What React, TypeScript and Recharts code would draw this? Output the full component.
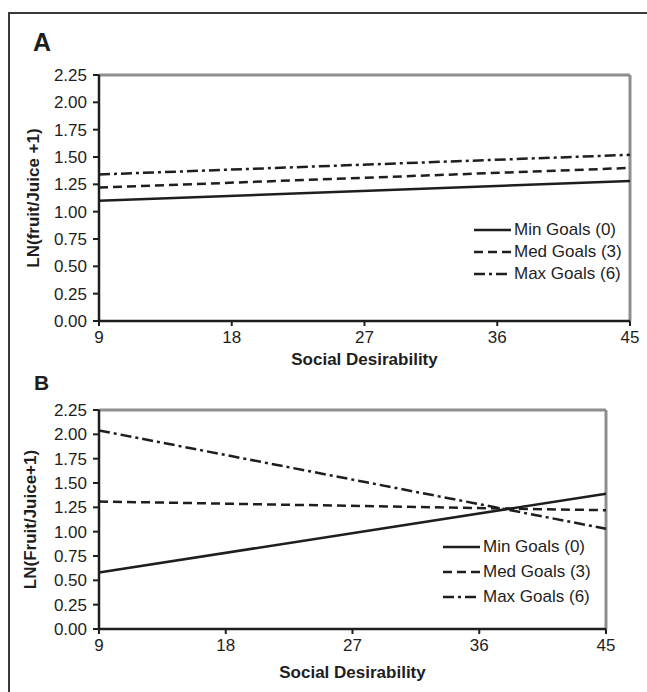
import React from 'react';
import { LineChart, Line, XAxis, YAxis, ReferenceLine, Legend } from 'recharts';

// Social Desirability endpoints of the simple-slope lines
const socialDesirability = [9, 45];
const xTicks = [9, 18, 27, 36, 45];
const yTicks = [0, 0.25, 0.5, 0.75, 1, 1.25, 1.5, 1.75, 2, 2.25];

// panel A  LN(fruit/Juice +1)
const minGoalsA = [1.1, 1.28];
const medGoalsA = [1.22, 1.4];
const maxGoalsA = [1.34, 1.52];

// panel B  LN(Fruit/Juice+1)
const minGoalsB = [0.58, 1.39];
const medGoalsB = [1.31, 1.22];
const maxGoalsB = [2.04, 1.03];

const seriesKeys = ['min', 'med', 'max'];
const seriesNames = ['Min Goals (0)', 'Med Goals (3)', 'Max Goals (6)'];

const FONT = '"Liberation Sans", Arial, Helvetica, sans-serif';
const INK = '#1e1e1e';
const BORDER = '#8e8e8e';
const dashes: Record<string, string | undefined> = {
  min: undefined,
  med: '9 5',
  max: '11 4 3 4',
};

function buildRows(min: number[], med: number[], max: number[]) {
  return socialDesirability.map((sd, i) => ({ sd, min: min[i], med: med[i], max: max[i] }));
}

function yTitle(text: string, centerX: number) {
  return (props: any) => {
    const { y, height } = props.viewBox;
    const cy = y + height / 2;
    return (
      <text
        x={centerX}
        y={cy}
        transform={`rotate(-90 ${centerX} ${cy})`}
        textAnchor="middle"
        dominantBaseline="central"
        fill={INK}
        fontSize={17}
        fontWeight="bold"
        fontFamily={FONT}
      >
        {text}
      </text>
    );
  };
}

function legendContent(rowHeight: number) {
  return (props: any) => {
    const items = [...(props.payload || [])].sort(
      (a: any, b: any) => seriesKeys.indexOf(a.dataKey) - seriesKeys.indexOf(b.dataKey)
    );
    return (
      <div style={{ fontFamily: FONT, fontSize: 17, color: INK }}>
        {items.map((entry: any) => (
          <div
            key={entry.value}
            style={{ display: 'flex', alignItems: 'center', height: rowHeight }}
          >
            <svg width={37} height={6}>
              <line
                x1={0}
                y1={3}
                x2={37}
                y2={3}
                stroke={INK}
                strokeWidth={2.5}
                strokeDasharray={dashes[entry.dataKey]}
              />
            </svg>
            <span style={{ marginLeft: 3, whiteSpace: 'nowrap' }}>{entry.value}</span>
          </div>
        ))}
      </div>
    );
  };
}

function Panel(props: {
  rows: any[];
  top: number;
  height: number;
  margin: any;
  xAxisHeight: number;
  title: string;
  titleX: number;
  legendPos: { left: number; top: number };
  rowHeight: number;
}) {
  const { rows, top, height, margin, xAxisHeight, title, titleX, legendPos, rowHeight } = props;
  return (
    <div style={{ position: 'absolute', left: 0, top }}>
      <LineChart width={647} height={height} data={rows} margin={margin}>
        <ReferenceLine y={2.25} stroke={BORDER} strokeWidth={3} />
        <ReferenceLine x={45} stroke={BORDER} strokeWidth={3} />
        <XAxis
          dataKey="sd"
          type="number"
          domain={[9, 45]}
          ticks={xTicks}
          height={xAxisHeight}
          tickSize={5}
          tickMargin={5}
          axisLine={{ stroke: INK, strokeWidth: 2.5 }}
          tickLine={{ stroke: INK, strokeWidth: 2 }}
          tick={{ fill: INK, fontSize: 17, fontFamily: FONT }}
          label={{
            value: 'Social Desirability',
            position: 'insideBottom',
            offset: 0,
            fill: INK,
            fontSize: 17,
            fontWeight: 'bold',
            fontFamily: FONT,
          }}
        />
        <YAxis
          type="number"
          domain={[0, 2.25]}
          ticks={yTicks}
          width={50}
          tickSize={6}
          tickMargin={6}
          interval={0}
          tickFormatter={(v: number) => v.toFixed(2)}
          axisLine={{ stroke: INK, strokeWidth: 2.5 }}
          tickLine={{ stroke: INK, strokeWidth: 2 }}
          tick={{ fill: INK, fontSize: 17, fontFamily: FONT }}
          label={yTitle(title, titleX)}
        />
        {seriesKeys.map((key, i) => (
          <Line
            key={key}
            dataKey={key}
            name={seriesNames[i]}
            type="linear"
            stroke={INK}
            strokeWidth={2.5}
            strokeDasharray={dashes[key]}
            dot={false}
            activeDot={false}
            isAnimationActive={false}
          />
        ))}
        <Legend
          layout="vertical"
          align="center"
          verticalAlign="middle"
          itemSorter={(item: any) => seriesKeys.indexOf(item.dataKey)}
          wrapperStyle={{ left: legendPos.left, top: legendPos.top, width: 170 }}
          content={legendContent(rowHeight)}
        />
      </LineChart>
    </div>
  );
}

export default function App() {
  return (
    <div
      style={{
        position: 'absolute',
        left: 0,
        top: 0,
        width: 647,
        height: 692,
        overflow: 'hidden',
        background: '#fff',
        fontFamily: FONT,
      }}
    >
      <div
        style={{
          position: 'absolute',
          left: 8,
          top: 12,
          width: 700,
          height: 700,
          borderLeft: '2px solid #3a3a3a',
          borderTop: '2px solid #3a3a3a',
        }}
      />
      <div
        style={{
          position: 'absolute',
          left: 33,
          top: 28,
          fontSize: 25,
          lineHeight: '29px',
          fontWeight: 'bold',
          color: INK,
        }}
      >
        A
      </div>
      <div
        style={{
          position: 'absolute',
          left: 34,
          top: 371,
          fontSize: 21,
          lineHeight: '23px',
          fontWeight: 'bold',
          color: INK,
        }}
      >
        B
      </div>
      <Panel
        rows={buildRows(minGoalsA, medGoalsA, maxGoalsA)}
        top={0}
        height={380}
        margin={{ top: 75, right: 17, left: 49, bottom: 15 }}
        xAxisHeight={44}
        title="LN(fruit/Juice +1)"
        titleX={33}
        legendPos={{ left: 474, top: 219 }}
        rowHeight={22}
      />
      <Panel
        rows={buildRows(minGoalsB, medGoalsB, maxGoalsB)}
        top={380}
        height={312}
        margin={{ top: 30, right: 41, left: 49, bottom: 14 }}
        xAxisHeight={49}
        title="LN(Fruit/Juice+1)"
        titleX={30}
        legendPos={{ left: 443, top: 154 }}
        rowHeight={25}
      />
    </div>
  );
}
